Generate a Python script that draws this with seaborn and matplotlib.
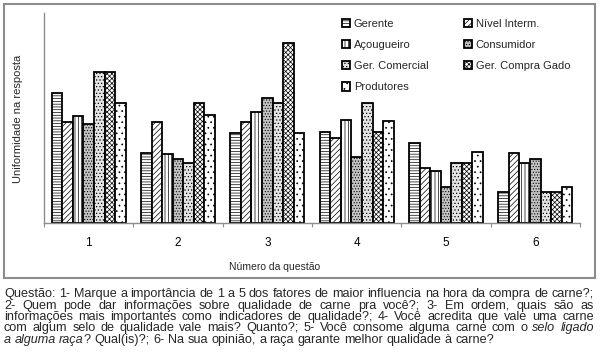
import math
import matplotlib
matplotlib.use('Agg')
import matplotlib.pyplot as plt
import pandas as pd
import seaborn as sns
from matplotlib.patches import Rectangle
from matplotlib.backends.backend_agg import get_hinting_flag

# ---------------- data ----------------
questoes = ['1', '2', '3', '4', '5', '6']
grupos = ['Gerente', 'Nível Interm.', 'Açougueiro', 'Consumidor',
          'Ger. Comercial', 'Ger. Compra Gado', 'Produtores']
gerente = [130, 70, 90, 91, 80, 31]
nivel_interm = [101, 101, 101, 85, 55, 70]
acougueiro = [107, 69, 111, 103, 52, 60]
consumidor = [99, 64, 125, 66, 36, 64]
ger_comercial = [151, 60, 120, 120, 60, 31]
ger_compra_gado = [151, 120, 180, 91, 60, 31]
produtores = [120, 108, 90, 102, 71, 36]
series = [gerente, nivel_interm, acougueiro, consumidor,
          ger_comercial, ger_compra_gado, produtores]

rows = []
for g, vals in zip(grupos, series):
    for q, v in zip(questoes, vals):
        rows.append({'questao': q, 'grupo': g, 'valor': v})
df = pd.DataFrame(rows)

faces = ['white', 'white', 'white', '#c4c4c4', '#e4e4e4', 'white', 'white']
hatches = ['------', '//////', '|||||', '......', '.....', 'xxxxxxx', '...']

# ---------------- style ----------------
sns.set_theme(style='white')
plt.rcParams['font.family'] = ['Liberation Sans', 'DejaVu Sans']
plt.rcParams['hatch.linewidth'] = 0.5

W, H = 600, 360
fig = plt.figure(figsize=(6, 3.6), dpi=100)
ax = fig.add_axes([44 / W, 1 - 223 / H, 536 / W, 210 / H])

sns.barplot(data=df, x='questao', y='valor', hue='grupo', order=questoes,
            hue_order=grupos, palette=faces, width=0.83,
            edgecolor='black', linewidth=1.3, legend=False, ax=ax, saturation=1)

for cont, h in zip(ax.containers, hatches):
    for p in cont.patches:
        p.set_hatch(h)
        p.set_edgecolor('black')

ax.set_ylim(0, 210)
ax.set_xlim(-0.5, 5.5)
ax.set_yticks([])
ax.set_ylabel('')
ax.set_xlabel('')
for s in ['top', 'right']:
    ax.spines[s].set_visible(False)
for s in ['left', 'bottom']:
    ax.spines[s].set_color('#8c8c8c')
    ax.spines[s].set_linewidth(1.0)

ax.set_xticks(range(6))
ax.set_xticklabels(questoes, fontsize=8.5, color='black')
ax.set_xticks([i - 0.5 for i in range(7)], minor=True)
ax.tick_params(axis='x', which='major', length=0, pad=10)
ax.tick_params(axis='x', which='minor', length=3, width=0.8, color='#8c8c8c',
               direction='out', bottom=True)

fig.text(18 / W, 1 - 119 / H, 'Uniformidade na resposta', rotation=90,
         ha='center', va='center', fontsize=8)
fig.text(275 / W, 1 - 267 / H, 'Número da questão', ha='center', va='center',
         fontsize=7.5)

# legend (row-major order like the reference)
order = [0, 2, 4, 6, 1, 3, 5]
handles = [ax.containers[i] for i in order]
labels = [grupos[i] for i in order]
leg = ax.legend(handles, labels, ncol=2, loc='upper left',
                bbox_to_anchor=(342 / W, 1 - 19 / H),
                bbox_transform=fig.transFigure, frameon=False, fontsize=8,
                handlelength=0.75, handleheight=0.75, handletextpad=0.3,
                labelspacing=1.0, columnspacing=3.2, borderpad=0,
                borderaxespad=0)

# outer frame around chart
fig.patches.append(Rectangle((4 / W, 1 - 278 / H), 591 / W, 274 / H,
                             transform=fig.transFigure, fill=False,
                             edgecolor='#8c8c8c', linewidth=1.5))

# ---------------- justified caption (one text per word) ----------------
caption = [
    [("Questão: 1- Marque a importância de 1 a 5 dos fatores de maior influencia na hora da compra de carne?;", 'normal')],
    [("2- Quem pode dar informações sobre qualidade de carne pra você?; 3- Em ordem, quais são as", 'normal')],
    [("informações mais importantes como indicadores de qualidade?; 4- Você acredita que vale uma carne", 'normal')],
    [("com algum selo de qualidade vale mais? Quanto?; 5- Você consome alguma carne com o", 'normal'),
     (" selo ligado", 'italic')],
    [("a alguma raça", 'italic'),
     ("? Qual(is)?; 6- Na sua opinião, a raça garante melhor qualidade à carne?", 'normal')],
]
line_base = [297.2, 308.8, 320.2, 331.2, 342.8]
x0, x1 = 4, 594

renderer = fig.canvas.get_renderer()


def measure(s, style, size):
    t = fig.text(0, 0, s, fontsize=size, style=style)
    w = t.get_window_extent(renderer).width
    t.remove()
    return w


def pixel_fix(t, b):
    """integer shift so the rasterised baseline lands on round(b)"""
    try:
        font = renderer._prepare_font(t.get_fontproperties())
        font.set_text(t.get_text(), 0, flags=get_hinting_flag())
        w, h = font.get_width_height()
        desc = font.get_descent()
        ymax = h - desc
        d = desc / 64.0
        pred = round(b + d) - (h // 64) + math.floor(ymax / 64)
        return round(b) - pred
    except Exception:
        return 0


base = measure(caption[0][0][0], 'normal', 10)
csize = 10 * (x1 - x0) / base


def tokenize(segs):
    tokens = []
    for text, style in segs:
        parts = text.split(' ')
        for i, p in enumerate(parts):
            if p == '':
                continue
            if i == 0 and tokens and not text.startswith(' '):
                tokens[-1].append((p, style))
            else:
                tokens.append([(p, style)])
    return tokens


space_w = measure('a a', 'normal', csize) - measure('aa', 'normal', csize)
for li, (segs, yy) in enumerate(zip(caption, line_base)):
    toks = tokenize(segs)
    widths = [sum(measure(p, st, csize) for p, st in tk) for tk in toks]
    last = li == len(caption) - 1
    if last or len(toks) < 2:
        gap = space_w
    else:
        gap = ((x1 - x0) - sum(widths)) / (len(toks) - 1)
    x = x0
    for tk, w in zip(toks, widths):
        xx = x
        for p, st in tk:
            t = fig.text(xx / W, 1 - yy / H, p, fontsize=csize, style=st,
                         ha='left', va='baseline')
            shift = pixel_fix(t, yy)
            if shift:
                t.set_y(1 - (yy + shift) / H)
            xx += measure(p, st, csize)
        x += w + gap

fig.savefig('out.png', dpi=100)
